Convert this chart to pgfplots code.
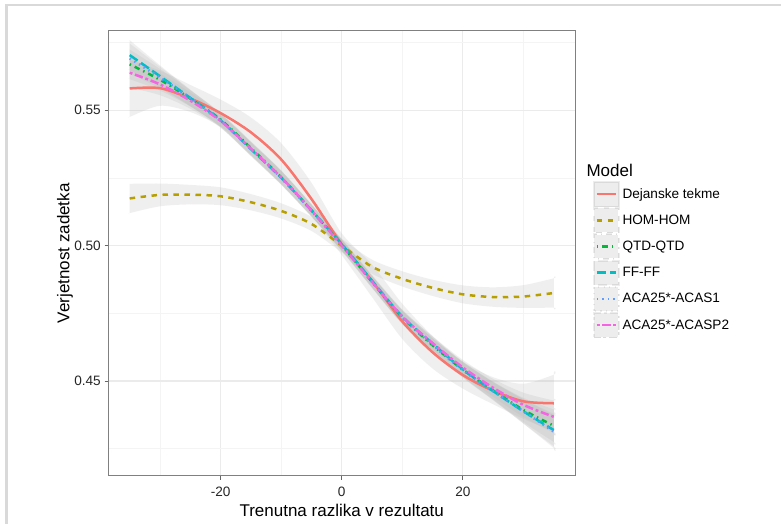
\documentclass[border=0pt]{standalone}
\usepackage{pgfplots}
\pgfplotsset{compat=1.18}
\usepackage{pgfplotstable}
\usepackage{fontspec}
\setmainfont{Liberation Sans}
\definecolor{cR}{HTML}{F8766D}
\definecolor{cO}{HTML}{B79F00}
\definecolor{cG}{HTML}{00BA38}
\definecolor{cT}{HTML}{00BFC4}
\definecolor{cB}{HTML}{619CFF}
\definecolor{cP}{HTML}{F564E3}
\definecolor{gmaj}{HTML}{EBEBEB}
\definecolor{gmin}{HTML}{F4F4F4}
\definecolor{frame}{HTML}{D9D9D9}
\definecolor{keyfill}{HTML}{EDEDED}
\definecolor{keyborder}{HTML}{DADADA}
\pgfplotstableread{
x red hom qtd ff acaa acab
-35 0.5580 0.5174 0.5669 0.5703 0.5691 0.5638
-30 0.5581 0.5187 0.5612 0.5625 0.5620 0.5595
-25 0.5543 0.5188 0.5543 0.5545 0.5545 0.5535
-20 0.5489 0.5182 0.5465 0.5462 0.5462 0.5460
-15 0.5418 0.5160 0.5360 0.5356 0.5356 0.5358
-10 0.5318 0.5128 0.5252 0.5250 0.5250 0.5252
-5 0.5172 0.5080 0.5130 0.5130 0.5128 0.5130
0 0.5005 0.5000 0.5002 0.5005 0.5001 0.5000
5 0.4870 0.4922 0.4866 0.4870 0.4866 0.4866
10 0.4720 0.4877 0.4735 0.4738 0.4735 0.4738
15 0.4606 0.4844 0.4632 0.4638 0.4633 0.4640
20 0.4522 0.4820 0.4542 0.4543 0.4540 0.4550
25 0.4464 0.4810 0.4465 0.4463 0.4462 0.4475
30 0.4425 0.4812 0.4393 0.4388 0.4388 0.4412
35 0.4418 0.4825 0.4335 0.4319 0.4313 0.4368
}\data
% band outline: upper edge left to right, then lower edge right to left (s = side)
\pgfplotstableread{
x s red hom qtd ff acaa acab sr sh sb
-35 1 0.5580 0.5174 0.5669 0.5703 0.5691 0.5638 0.0105 0.0054 0.0055
-30 1 0.5581 0.5187 0.5612 0.5625 0.5620 0.5595 0.0065 0.0042 0.0040
-25 1 0.5543 0.5188 0.5543 0.5545 0.5545 0.5535 0.0050 0.0036 0.0030
-20 1 0.5489 0.5182 0.5465 0.5462 0.5462 0.5460 0.0050 0.0033 0.0025
-15 1 0.5418 0.5160 0.5360 0.5356 0.5356 0.5358 0.0055 0.0030 0.0025
-10 1 0.5318 0.5128 0.5252 0.5250 0.5250 0.5252 0.0060 0.0028 0.0025
-5 1 0.5172 0.5080 0.5130 0.5130 0.5128 0.5130 0.0060 0.0026 0.0022
0 1 0.5005 0.5000 0.5002 0.5005 0.5001 0.5000 0.0040 0.0025 0.0020
5 1 0.4870 0.4922 0.4866 0.4870 0.4866 0.4866 0.0060 0.0026 0.0022
10 1 0.4720 0.4877 0.4735 0.4738 0.4735 0.4738 0.0065 0.0028 0.0025
15 1 0.4606 0.4844 0.4632 0.4638 0.4633 0.4640 0.0060 0.0030 0.0025
20 1 0.4522 0.4820 0.4542 0.4543 0.4540 0.4550 0.0050 0.0033 0.0028
25 1 0.4464 0.4810 0.4465 0.4463 0.4462 0.4475 0.0050 0.0036 0.0033
30 1 0.4425 0.4812 0.4393 0.4388 0.4388 0.4412 0.0065 0.0042 0.0045
35 1 0.4418 0.4825 0.4335 0.4319 0.4313 0.4368 0.0105 0.0054 0.0060
35 1 0.4418 0.4825 0.4335 0.4319 0.4313 0.4368 0.0105 0.0054 0.0060
35 -1 0.4418 0.4825 0.4335 0.4319 0.4313 0.4368 0.0105 0.0054 0.0060
35 -1 0.4418 0.4825 0.4335 0.4319 0.4313 0.4368 0.0105 0.0054 0.0060
30 -1 0.4425 0.4812 0.4393 0.4388 0.4388 0.4412 0.0065 0.0042 0.0045
25 -1 0.4464 0.4810 0.4465 0.4463 0.4462 0.4475 0.0050 0.0036 0.0033
20 -1 0.4522 0.4820 0.4542 0.4543 0.4540 0.4550 0.0050 0.0033 0.0028
15 -1 0.4606 0.4844 0.4632 0.4638 0.4633 0.4640 0.0060 0.0030 0.0025
10 -1 0.4720 0.4877 0.4735 0.4738 0.4735 0.4738 0.0065 0.0028 0.0025
5 -1 0.4870 0.4922 0.4866 0.4870 0.4866 0.4866 0.0060 0.0026 0.0022
0 -1 0.5005 0.5000 0.5002 0.5005 0.5001 0.5000 0.0040 0.0025 0.0020
-5 -1 0.5172 0.5080 0.5130 0.5130 0.5128 0.5130 0.0060 0.0026 0.0022
-10 -1 0.5318 0.5128 0.5252 0.5250 0.5250 0.5252 0.0060 0.0028 0.0025
-15 -1 0.5418 0.5160 0.5360 0.5356 0.5356 0.5358 0.0055 0.0030 0.0025
-20 -1 0.5489 0.5182 0.5465 0.5462 0.5462 0.5460 0.0050 0.0033 0.0025
-25 -1 0.5543 0.5188 0.5543 0.5545 0.5545 0.5535 0.0050 0.0036 0.0030
-30 -1 0.5581 0.5187 0.5612 0.5625 0.5620 0.5595 0.0065 0.0042 0.0040
-35 -1 0.5580 0.5174 0.5669 0.5703 0.5691 0.5638 0.0105 0.0054 0.0055
-35 -1 0.5580 0.5174 0.5669 0.5703 0.5691 0.5638 0.0105 0.0054 0.0055
}\bands
\newcommand{\band}[2]{%
\addplot[fill=gray!60, fill opacity=0.2, draw=none, forget plot, smooth]
  table[x=x, y expr=\thisrow{#1}+\thisrow{s}*\thisrow{#2}] {\bands};
}
\begin{document}
\begin{tikzpicture}
\useasboundingbox (0,0) rectangle (781pt,524pt);
\fill[white] (0,0) rectangle (781pt,524pt);
\fill[frame] (5pt,0pt) rectangle (7.5pt,520pt);
\fill[frame] (5pt,518pt) rectangle (781pt,520pt);
\begin{axis}[
  at={(108.5pt,48.4pt)}, anchor=south west,
  scale only axis, width=466.5pt, height=444.6pt,
  clip mode=individual,
  xmin=-38.5, xmax=38.5, ymin=0.4151, ymax=0.5792,
  xtick={-20,0,20}, xticklabels={{-20},{0},{20}},
  ytick={0.45,0.50,0.55}, yticklabels={0.45,0.50,0.55},
  minor xtick={-30,-10,10,30}, minor ytick={0.425,0.475,0.525,0.575},
  grid=both,
  major grid style={color=gmaj, line width=1.1pt},
  minor grid style={color=gmin, line width=0.6pt},
  minor tick length=0pt,
  major tick length=4pt,
  tick align=outside,
  xtick pos=bottom, ytick pos=left,
  tick style={color=black!60, line width=1pt},
  axis line style={color=black!50, line width=1pt},
  tick label style={font=\fontsize{13.6}{16}\selectfont, text=black!85},
  xticklabel style={anchor=base, inner sep=0pt, yshift=-16.5pt},
  yticklabel style={anchor=east, inner sep=0pt, xshift=-3.5pt},
  xlabel={Trenutna razlika v rezultatu},
  ylabel={Verjetnost zadetka},
  every axis x label/.style={at={(axis description cs:0.5,-0.092)}, anchor=base, font=\fontsize{17}{20}\selectfont},
  every axis y label/.style={at={(axis description cs:-0.0932,0.5)}, rotate=90, anchor=center, font=\fontsize{17}{20}\selectfont},
  legend style={at={(axis description cs:1.0386,0.6626)}, anchor=north west, draw=none, fill=none,
    inner sep=0pt, outer sep=0pt, row sep=0pt, column sep=3pt,
    font=\fontsize{13.6}{16}\selectfont, nodes={inner sep=0pt}},
  legend cell align=left,
  legend image code/.code={%
    \fill[keyfill] (0pt,-11.85pt) rectangle (24pt,11.85pt);
    \draw[keyborder, line width=0.6pt] (0pt,-11.85pt) rectangle (24pt,11.85pt);
    \draw[#1] (2.5pt,0pt) -- (21.5pt,0pt);
  },
]
\band{red}{sr}
\band{hom}{sh}
\band{qtd}{sb}
\band{ff}{sb}
\band{acaa}{sb}
\band{acab}{sb}
\addplot[cR, line width=2.5pt, smooth] table[x=x, y=red] {\data};
\addlegendentry{Dejanske tekme}
\addplot[cO, line width=2.5pt, smooth, dash pattern=on 5.5pt off 5.5pt] table[x=x, y=hom] {\data};
\addlegendentry{HOM-HOM}
\addplot[cG, line width=2.5pt, smooth, dash pattern=on 1.4pt off 4.1pt on 5.5pt off 4.1pt] table[x=x, y=qtd] {\data};
\addlegendentry{QTD-QTD}
\addplot[cT, line width=2.5pt, smooth, dash pattern=on 9.6pt off 4.1pt] table[x=x, y=ff] {\data};
\addlegendentry{FF-FF}
\addplot[cB, line width=2.5pt, smooth, dash pattern=on 1.4pt off 4.1pt] table[x=x, y=acaa] {\data};
\addlegendentry{ACA25*-ACAS1}
\addplot[cP, line width=2.5pt, smooth, dash pattern=on 2.8pt off 2.8pt on 8.3pt off 2.8pt] table[x=x, y=acab] {\data};
\addlegendentry{ACA25*-ACASP2}
\node[anchor=base west, font=\fontsize{17}{20}\selectfont] at (axis description cs:1.0172,0.6732) {Model};
\end{axis}
\end{tikzpicture}
\end{document}
